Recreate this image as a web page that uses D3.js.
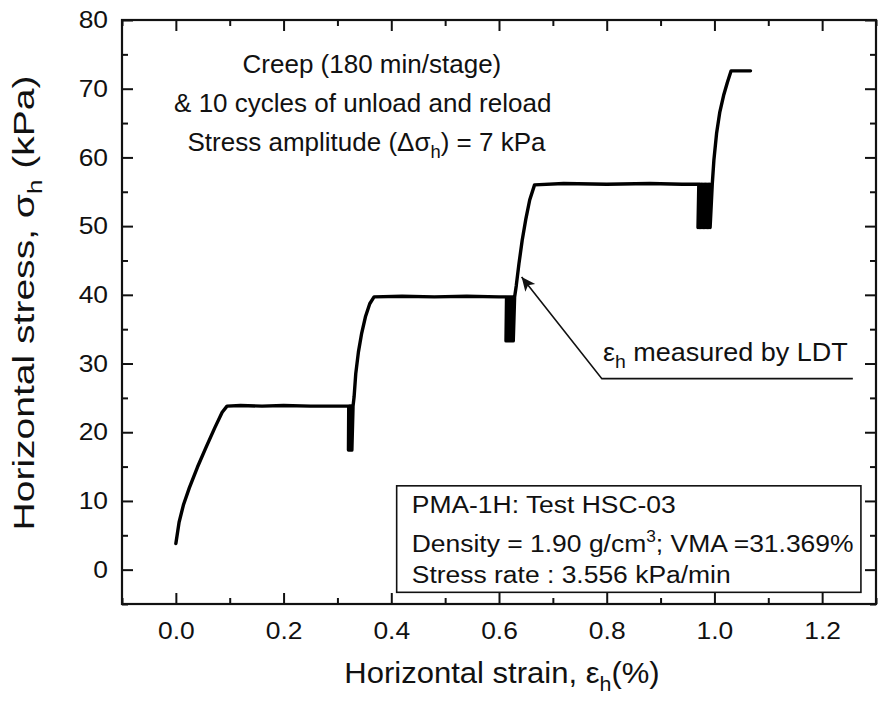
<!DOCTYPE html>
<html>
<head>
<meta charset="utf-8">
<script src="https://cdn.jsdelivr.net/npm/d3@7"></script>
<style>
  body { margin: 0; background: #fff; }
  text { font-family: "Liberation Sans", Arial, sans-serif; fill: #111; }
</style>
</head>
<body>
<div id="main"></div>
<script>
// strain (%) and horizontal stress (kPa), incl. the 10 unload/reload cycles
const strain = [
  0.000, 0.006, 0.014, 0.025, 0.040, 0.056, 0.072, 0.086, 0.095,
  0.120, 0.160, 0.200, 0.250, 0.290, 0.321,
  0.3205, 0.3217, 0.3212, 0.3224, 0.3219, 0.3231, 0.3226, 0.3238, 0.3233, 0.3245,
  0.3240, 0.3252, 0.3247, 0.3259, 0.3254, 0.3266, 0.3261, 0.3273, 0.3268, 0.3290,
  0.331, 0.334, 0.339, 0.345, 0.352, 0.360, 0.368,
  0.420, 0.480, 0.540, 0.600, 0.614,
  0.6130, 0.6155, 0.6145, 0.6170, 0.6160, 0.6185, 0.6175, 0.6200, 0.6190, 0.6215,
  0.6205, 0.6230, 0.6220, 0.6245, 0.6235, 0.6260, 0.6250, 0.6275, 0.6265, 0.6290,
  0.632, 0.637, 0.643, 0.650, 0.657, 0.666,
  0.720, 0.800, 0.880, 0.940, 0.971,
  0.9695, 0.9735, 0.9720, 0.9760, 0.9745, 0.9785, 0.9770, 0.9810, 0.9795, 0.9835,
  0.9820, 0.9860, 0.9845, 0.9885, 0.9870, 0.9910, 0.9895, 0.9935, 0.9920, 0.9960,
  0.999, 1.004, 1.010, 1.017, 1.024, 1.031, 1.050, 1.067
];
const stress = [
  3.8, 6.9, 9.4, 11.9, 14.9, 17.8, 20.6, 22.9, 23.8,
  23.9, 23.8, 23.9, 23.8, 23.8, 23.8,
  17.4, 23.8, 17.4, 23.8, 17.4, 23.8, 17.4, 23.8, 17.4, 23.8,
  17.4, 23.8, 17.4, 23.8, 17.4, 23.8, 17.4, 23.8, 17.4, 23.8,
  25.2, 28.5, 31.7, 34.4, 36.8, 38.7, 39.7,
  39.8, 39.7, 39.8, 39.7, 39.7,
  33.3, 39.7, 33.3, 39.7, 33.3, 39.7, 33.3, 39.7, 33.3, 39.7,
  33.3, 39.7, 33.3, 39.7, 33.3, 39.7, 33.3, 39.7, 33.3, 39.7,
  41.3, 44.5, 47.9, 51.1, 53.8, 56.0,
  56.2, 56.1, 56.2, 56.1, 56.1,
  49.8, 56.1, 49.8, 56.1, 49.8, 56.1, 49.8, 56.1, 49.8, 56.1,
  49.8, 56.1, 49.8, 56.1, 49.8, 56.1, 49.8, 56.1, 49.8, 56.1,
  59.6, 63.5, 66.6, 69.0, 70.9, 72.6, 72.6, 72.6
];

const xTicks = [0.0, 0.2, 0.4, 0.6, 0.8, 1.0, 1.2];
const xMinor = [-0.1, 0.1, 0.3, 0.5, 0.7, 0.9, 1.1, 1.3];
const yTicks = [0, 10, 20, 30, 40, 50, 60, 70, 80];
const yMinor = [-5, 5, 15, 25, 35, 45, 55, 65, 75];

const infoLines = ["PMA-1H: Test HSC-03", "Density = 1.90 g/cm", "Stress rate : 3.556 kPa/min"];
const infoY = [8.2, 2.6, -1.95];

const c = { width: 879, height: 702, left: 122, right: 876, top: 20, bottom: 604, sx: 1.1 };

const svg = d3.select("#main").append("svg")
  .attr("width", c.width)
  .attr("height", c.height);

const x = d3.scaleLinear().domain([-0.1, 1.3]).range([c.left, c.right]);
const y = d3.scaleLinear().domain([-5, 80]).range([c.bottom, c.top]);

// the scan is a little wider than the fonts we have, so text gets stretched sideways
function label(px, py, size, sx, anchor) {
  return svg.append("text")
    .attr("transform", `translate(${px},${py}) scale(${sx},1)`)
    .attr("text-anchor", anchor || "start")
    .attr("font-size", size);
}

function styleAxis(g) {
  g.select(".domain").remove();
  g.selectAll("line").attr("stroke", "#111").attr("stroke-width", 2);
  g.selectAll("text").attr("font-size", 24).attr("fill", "#111")
    .attr("font-family", "Liberation Sans, Arial, sans-serif")
    .attr("transform", `scale(${c.sx},1)`);
}

// bottom / top axis, ticks pointing inside
svg.append("g").attr("transform", `translate(0,${c.bottom})`)
  .call(d3.axisBottom(x).tickValues(xTicks).tickSize(-11).tickPadding(18).tickFormat(d3.format(".1f")))
  .call(styleAxis);
svg.append("g").attr("transform", `translate(0,${c.bottom})`)
  .call(d3.axisBottom(x).tickValues(xMinor).tickSize(-6).tickFormat(""))
  .call(styleAxis);
svg.append("g").attr("transform", `translate(0,${c.top})`)
  .call(d3.axisTop(x).tickValues(xTicks).tickSize(-11).tickFormat(""))
  .call(styleAxis);
svg.append("g").attr("transform", `translate(0,${c.top})`)
  .call(d3.axisTop(x).tickValues(xMinor).tickSize(-6).tickFormat(""))
  .call(styleAxis);

// left / right axis
svg.append("g").attr("transform", `translate(${c.left},0)`)
  .call(d3.axisLeft(y).tickValues(yTicks).tickSize(-11))
  .call(styleAxis)
  .call(g => g.selectAll("text").attr("x", -14 / c.sx));
svg.append("g").attr("transform", `translate(${c.left},0)`)
  .call(d3.axisLeft(y).tickValues(yMinor).tickSize(-6).tickFormat(""))
  .call(styleAxis);
svg.append("g").attr("transform", `translate(${c.right},0)`)
  .call(d3.axisRight(y).tickValues(yTicks).tickSize(-11).tickFormat(""))
  .call(styleAxis);
svg.append("g").attr("transform", `translate(${c.right},0)`)
  .call(d3.axisRight(y).tickValues(yMinor).tickSize(-6).tickFormat(""))
  .call(styleAxis);

// frame
svg.append("rect")
  .attr("x", c.left).attr("y", c.top)
  .attr("width", c.right - c.left).attr("height", c.bottom - c.top)
  .attr("fill", "none").attr("stroke", "#111").attr("stroke-width", 2.2);

// the curve
const pts = strain.map((d, i) => [d, stress[i]]);
const line = d3.line().x(d => x(d[0])).y(d => y(d[1])).curve(d3.curveLinear);
svg.append("path")
  .datum(pts)
  .attr("d", line)
  .attr("fill", "none")
  .attr("stroke", "#000")
  .attr("stroke-width", 3.4)
  .attr("stroke-linejoin", "round")
  .attr("stroke-linecap", "round");

// axis titles
const xt = label(502, 683, 29, 1.07, "middle");
xt.append("tspan").text("Horizontal strain, ε");
xt.append("tspan").attr("font-size", 20).attr("dy", 8).text("h");
xt.append("tspan").attr("dy", -8).text("(%)");

const yt = svg.append("text")
  .attr("transform", "translate(34,303) rotate(-90)")
  .attr("text-anchor", "middle").attr("font-size", 30)
  .attr("textLength", 455).attr("lengthAdjust", "spacingAndGlyphs");
yt.append("tspan").text("Horizontal stress, σ");
yt.append("tspan").attr("font-size", 20).attr("dy", 8).text("h");
yt.append("tspan").attr("dy", -8).text(" (kPa)");

// test description
label(x(0.364), y(72.3), 25.5, 1.02, "middle").text("Creep (180 min/stage)");
label(x(0.347), y(66.65), 25.5, 1.02, "middle").text("& 10 cycles of unload and reload");
const amp = label(x(0.354), y(61.0), 25.5, 1.02, "middle");
amp.append("tspan").text("Stress amplitude (Δσ");
amp.append("tspan").attr("font-size", 18).attr("dy", 7).text("h");
amp.append("tspan").attr("dy", -7).text(") = 7 kPa");

// LDT arrow
svg.append("defs").append("marker")
  .attr("id", "arr").attr("viewBox", "0 0 10 10")
  .attr("refX", 10).attr("refY", 5)
  .attr("markerWidth", 16).attr("markerHeight", 14)
  .attr("markerUnits", "userSpaceOnUse")
  .attr("orient", "auto")
  .append("path").attr("d", "M0,0.5 L10,5 L0,9.5 L2.5,5 Z").attr("fill", "#111");

svg.append("path")
  .attr("d", `M${x(1.257)},${y(27.8)} L${x(0.791)},${y(27.8)} L${x(0.642)},${y(42.6)}`)
  .attr("fill", "none").attr("stroke", "#111").attr("stroke-width", 1.6)
  .attr("marker-end", "url(#arr)");

const ldt = label(x(0.793), y(30.3), 25, 1.08);
ldt.append("tspan").text("ε");
ldt.append("tspan").attr("font-size", 18).attr("dy", 7).text("h");
ldt.append("tspan").attr("dy", -7).text(" measured by LDT");

// info box
svg.append("rect")
  .attr("x", x(0.41)).attr("y", y(12.2))
  .attr("width", x(1.272) - x(0.41)).attr("height", y(-3.3) - y(12.2))
  .attr("fill", "#fff").attr("stroke", "#111").attr("stroke-width", 1.6);

infoLines.forEach((t, i) => {
  const tx = label(x(0.438), y(infoY[i]), 24.5, 1.08);
  tx.append("tspan").text(t);
  if (i === 1) {
    tx.append("tspan").attr("font-size", 16).attr("dy", -10).text("3");
    tx.append("tspan").attr("dy", 10).text("; VMA =31.369%");
  }
});
</script>
</body>
</html>
